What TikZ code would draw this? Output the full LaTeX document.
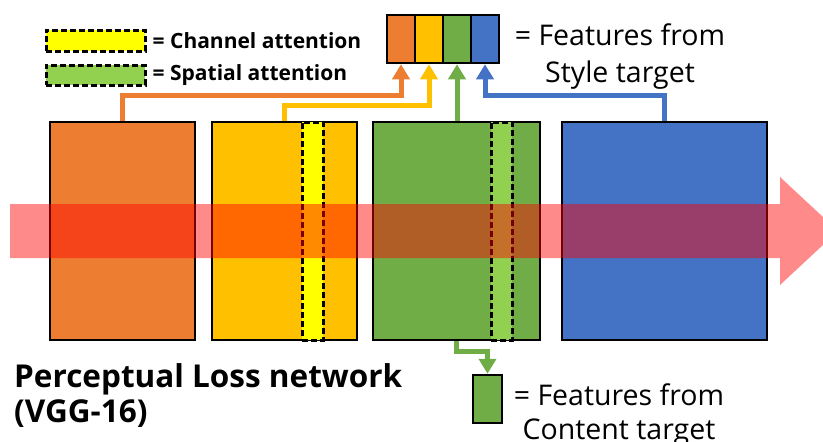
\documentclass[tikz,border=0pt]{standalone}
\usepackage{fontspec}
\setmainfont{Open Sans}
\usetikzlibrary{arrows.meta}
\definecolor{cOrange}{HTML}{ED7D31}
\definecolor{cGold}{HTML}{FFC000}
\definecolor{cGreen}{HTML}{70AD47}
\definecolor{cBlue}{HTML}{4472C4}
\definecolor{cYellowS}{HTML}{FFFF00}
\definecolor{cGreenS}{HTML}{92D050}
\definecolor{cFlow}{HTML}{FF0000}
\begin{document}
\begin{tikzpicture}[x=1pt,y=-1pt,
  layerbox/.style={draw=black, line width=2.5pt, inner sep=0pt,
    minimum height=218pt},
  attnstrip/.style={draw=black, line width=3pt, inner sep=0pt,
    dash pattern=on 6pt off 3pt},
  featcell/.style={draw=black, line width=2.5pt, inner sep=0pt,
    minimum width=28pt, minimum height=48pt},
  conn/.style={line width=5pt, -{Triangle[length=15pt,width=17pt]}},
  label/.style={inner sep=0pt, text=black},
]
\useasboundingbox (0,0) rectangle (823,442);
\clip (0,0) rectangle (823,442);

% network layers
\node[layerbox, fill=cOrange, minimum width=145pt] (ob) at (122.5,231) {};
\node[layerbox, fill=cGold,   minimum width=145pt] (yb) at (284.5,231) {};
\node[layerbox, fill=cGreen,  minimum width=167pt] (gb) at (456.5,231) {};
\node[layerbox, fill=cBlue,   minimum width=205pt] (bb) at (664.5,231) {};

% attention strips
\node[attnstrip, fill=cYellowS, minimum width=21pt, minimum height=218pt] (ys) at (312.5,231) {};
\node[attnstrip, fill=cGreenS,  minimum width=21pt, minimum height=218pt] (gs) at (501.5,231) {};

% data flow arrow
\fill[cFlow, opacity=0.46] (10,204) -- (780,204) -- (780,177) -- (838,231)
  -- (780,285) -- (780,258) -- (10,258) -- cycle;

% style target features
\node[featcell, fill=cOrange] (f1) at (401,39) {};
\node[featcell, fill=cGold]   (f2) at (429,39) {};
\node[featcell, fill=cGreen]  (f3) at (457,39) {};
\node[featcell, fill=cBlue]   (f4) at (485,39) {};
\node[label, anchor=north, align=center, font=\fontsize{28.5}{37}\selectfont] (st) at (620,23)
  {= Features from\\Style target};

% content target feature
\node[featcell, fill=cGreen, minimum width=29pt] (cf) at (487.5,399) {};
\node[label, anchor=north, align=center, font=\fontsize{28.5}{34}\selectfont] (ct) at (619,383)
  {= Features from\\Content target};

% connectors to the feature boxes
\draw[conn, cOrange] (ob.north) -- (ob.north |- 0,95) -| (f1.south);
\draw[conn, cGold]   (yb.north) -- (yb.north |- 0,105) -| (f2.south);
\draw[conn, cGreen]  (f3.south |- gb.north) -- (f3.south);
\draw[conn, cBlue]   (bb.north) -- (bb.north |- 0,95) -| (f4.south);
\draw[conn, cGreen]  (gb.south) -- (gb.south |- 0,351) -| (cf.north);

% legend
\node[attnstrip, fill=cYellowS, minimum width=99pt, minimum height=21pt] (lc) at (95.5,40.5) {};
\node[attnstrip, fill=cGreenS,  minimum width=99pt, minimum height=20pt] (ls) at (95.5,75) {};
\node[label, anchor=west, font=\bfseries\fontsize{21}{25}\selectfont] (tc) at ([xshift=6pt]lc.east) {= Channel attention};
\node[label, anchor=west, font=\bfseries\fontsize{21}{25}\selectfont] (ts) at ([xshift=6pt]ls.east) {= Spatial attention};

% network title
\node[label, anchor=north west, align=left, font=\bfseries\fontsize{31.5}{35}\selectfont] (title) at (14,363)
  {Perceptual Loss network\\(VGG-16)};
\end{tikzpicture}
\end{document}
